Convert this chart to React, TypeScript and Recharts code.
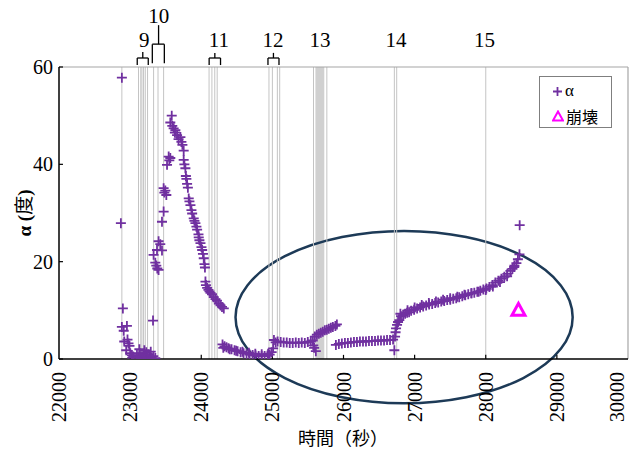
import React from "react";
import {
  ScatterChart,
  Scatter,
  XAxis,
  YAxis,
  ReferenceLine,
  ReferenceArea,
  ReferenceDot,
} from "recharts";

// ---- data ----
const xTicks = [22000, 23000, 24000, 25000, 26000, 27000, 28000, 29000, 30000];
const yTicks = [0, 20, 40, 60];

const alphaTime = [
  22884, 22870, 22898, 22884, 22955, 22910, 22917, 22963, 22977, 22945, 22991, 23001, 23025, 23030, 23044,
  23096, 23114, 23130, 23135, 23150, 23171, 23192, 23200, 23213, 23227, 23248, 23269, 23283, 23290, 23305, 23326, 23354,
  23322,
  23330, 23354, 23368, 23382, 23400, 23378, 23400, 23424, 23448, 23448, 23471, 23471, 23481, 23495, 23509, 23519, 23542, 23551, 23565,
  23585, 23565, 23593, 23612, 23629, 23636, 23660, 23681, 23707, 23721, 23735, 23753,
  23753, 23763, 23777, 23784, 23791, 23801, 23812, 23824, 23834, 23848, 23862, 23872, 23894, 23904, 23918, 23932, 23942, 23961, 23965, 23974, 23989, 24003, 24013, 24024, 24035, 24045, 24052,
  24059, 24066, 24083, 24101, 24116, 24130, 24151, 24176, 24200, 24221, 24247, 24271, 24292, 24317,
  24299, 24327, 24355, 24384, 24426, 24468, 24511, 24553, 24595, 24637, 24680, 24722, 24764, 24807, 24849, 24891, 24933, 24962, 24990, 25011,
  24310, 24400, 24490, 24580, 24670, 24760, 24850, 24940,
  25022, 25046, 25074, 25117, 25159, 25202, 25244, 25286, 25329, 25371, 25413, 25456, 25498, 25540, 25568, 25575, 25587, 25611,
  25597, 25625, 25653, 25681, 25709, 25738, 25766, 25794, 25822, 25850, 25886, 25907,
  25893, 25935, 25977, 26020, 26062, 26104, 26147, 26189, 26231, 26274, 26316, 26358, 26400, 26443, 26485, 26527, 26570, 26612, 26654, 26697, 26715,
  26725, 26732, 26739, 26753, 26767, 26785, 26809, 26838, 26866, 26894, 26922, 26951, 26993, 27035, 27077, 27120, 27162, 27204, 27247, 27289,
  27331, 27374, 27416, 27458, 27501, 27543, 27585, 27627, 27670, 27712, 27754, 27797, 27839, 27881, 27924, 27966, 28008, 28051, 28093, 28135,
  28177, 28220, 28262, 28304, 28347, 28375, 28403, 28431, 28452, 28474, 28477,
  26800, 26900, 27000, 27100, 27200, 27300, 27400, 27500, 27600, 27700, 27800, 27900, 28000, 28100, 28200, 28300, 28400,
];
const alphaDeg = [
  57.8, 27.9, 10.4, 6.6, 6.8, 5.8, 3.6, 4.0, 3.2, 1.8, 2.7, 1.2, 0.8, 0.3, 0.5,
  0.8, 0.3, 2.0, 1.2, 0.5, 0.2, 1.0, 1.8, 0.6, 1.4, 0.3, 0.9, 0.4, 1.5, 0.2, 0.6, 0.2,
  7.9,
  21.4, 19.8, 19.2, 18.6, 18.3, 22.4, 24.2, 23.6, 22.3, 28.2, 30.3, 35.1, 34.2, 34.6, 33.7, 39.9, 41.6, 40.8, 41.3,
  50.0, 48.6, 47.9, 47.4, 46.5, 47.0, 46.0, 45.2, 45.6, 44.6, 44.0, 42.8,
  40.9, 40.0, 39.2, 37.6, 37.0, 36.0, 35.2, 33.0, 32.4, 31.6, 30.6, 29.9, 28.9, 28.4, 27.9, 27.2, 26.6, 25.6, 25.0, 24.4, 23.8, 23.0, 22.4, 21.6, 20.7, 19.5, 18.8,
  15.9, 15.2, 14.6, 14.2, 13.9, 13.6, 13.3, 12.7, 12.3, 12.0, 11.4, 11.0, 10.7, 10.4,
  3.0, 2.6, 2.4, 2.2, 2.0, 1.8, 1.6, 1.4, 1.2, 1.1, 0.9, 0.8, 0.7, 0.6, 0.6, 0.6, 0.7, 0.9, 1.4, 2.2,
  2.3, 2.0, 1.7, 1.5, 1.3, 1.1, 1.0, 1.1,
  3.9, 3.4, 3.6, 3.5, 3.4, 3.4, 3.3, 3.3, 3.4, 3.3, 3.4, 3.3, 3.5, 3.6, 3.8, 2.8, 2.3, 1.6,
  4.6, 5.0, 5.2, 5.4, 5.6, 5.9, 6.0, 6.2, 6.4, 6.6, 6.8, 7.1,
  2.9, 3.1, 3.2, 3.3, 3.3, 3.4, 3.5, 3.5, 3.6, 3.6, 3.6, 3.7, 3.7, 3.7, 3.8, 3.8, 3.8, 3.9, 3.9, 4.0, 1.8,
  4.6, 5.5, 6.3, 7.0, 7.6, 8.0, 8.8, 9.0, 9.3, 9.5, 9.6, 9.9, 10.1, 10.4, 10.6, 10.8, 11.0, 11.2, 11.3, 11.5,
  11.6, 11.8, 11.9, 12.1, 12.2, 12.4, 12.5, 12.7, 12.9, 13.1, 13.3, 13.5, 13.6, 13.8, 14.0, 14.3, 14.5, 14.8, 15.2, 15.7,
  16.1, 16.5, 16.9, 17.5, 18.1, 18.5, 19.2, 19.7, 20.5, 21.5, 27.5,
  9.3, 10.0, 10.6, 11.1, 11.5, 11.8, 12.2, 12.5, 12.8, 13.2, 13.5, 13.8, 14.2, 14.9, 15.8, 17.0, 18.9,
];

const collapseTime = [28460];
const collapseDeg = [10.2];

// event marker lines (seconds)
const eventLines = [
  22884, 23118, 23150, 23166, 23189, 23213, 23245, 23330, 23392, 23471,
  24110, 24150, 24190, 24224, 24952, 25000, 25070, 25103, 25578, 25766,
  26715, 26748, 28000,
];
const shadedStart = 25605;
const shadedEnd = 25730;

// brackets above plot
const bracketX1 = [23100, 23312, 24111, 24938];
const bracketX2 = [23255, 23481, 24271, 25093];
const bracketStem = [23178, 23400, 24191, 25015];
const bracketBar = [61.85, 64.7, 61.85, 61.85];
const bracketStemTop = [63.1, 68.6, 62.9, 62.9];
const bracketFoot = [60.4, 60.75, 60.4, 60.4];

const eventLabels = ["9", "10", "11", "12", "13", "14", "15"];
const eventLabelX = [23198, 23404, 24247, 25008, 25671, 26739, 27984];
const eventLabelY = [64.17, 69.0, 64.17, 64.17, 64.17, 64.17, 64.17];

// ellipse annotation (data units)
const ellipseCenter = { x: 26852, y: 8.6 };
const ellipseHalf = { x: 2370, y: 17.7 };

const alphaData = alphaTime.map((x, i) => ({ x, y: alphaDeg[i] }));
const collapseData = collapseTime.map((x, i) => ({ x, y: collapseDeg[i] }));

const PURPLE = "#7030A0";
const MAGENTA = "#FF00FF";
const SERIF = "'Liberation Serif', 'Times New Roman', serif";
const CJK = "'Noto Sans CJK JP', sans-serif";

const Plus = (props: any) => {
  const { cx, cy } = props;
  if (cx == null || cy == null) return null;
  return (
    <path
      d={`M${cx - 5},${cy}h10M${cx},${cy - 5}v10`}
      stroke={PURPLE}
      strokeWidth={1.8}
      fill="none"
    />
  );
};

const Tri = (props: any) => {
  const { cx, cy } = props;
  if (cx == null || cy == null) return null;
  return (
    <path
      d={`M${cx},${cy - 6} L${cx + 6.5},${cy + 6} L${cx - 6.5},${cy + 6} Z`}
      stroke={MAGENTA}
      strokeWidth={3}
      fill="none"
      strokeLinejoin="miter"
    />
  );
};

const XTick = (props: any) => {
  const { x, y, payload } = props;
  return (
    <text
      transform={`translate(${x},${y + 13}) rotate(-90)`}
      textAnchor="end"
      dominantBaseline="central"
      fontFamily={SERIF}
      fontSize={20}
      fill="#000"
    >
      {payload.value}
    </text>
  );
};

const YTick = (props: any) => {
  const { x, y, payload } = props;
  return (
    <text
      x={x}
      y={y}
      textAnchor="end"
      dominantBaseline="central"
      fontFamily={SERIF}
      fontSize={20}
      fill="#000"
    >
      {payload.value}
    </text>
  );
};

export default function App() {
  return (
    <div style={{ position: "absolute", left: 0, top: 0, width: 637, height: 451, background: "#fff" }}>
      <ScatterChart
        width={637}
        height={451}
        margin={{ top: 67, right: 9, bottom: 0, left: 0 }}
      >
        <XAxis
          type="number"
          dataKey="x"
          domain={[22000, 30000]}
          ticks={xTicks}
          height={92}
          tickLine={false}
          tickSize={0}
          tickMargin={0}
          tick={<XTick />}
          axisLine={{ stroke: "#000", strokeWidth: 1.5 }}
          allowDataOverflow
        />
        <YAxis
          type="number"
          dataKey="y"
          domain={[0, 60]}
          ticks={yTicks}
          width={59}
          tickLine={false}
          tickSize={0}
          tickMargin={6}
          tick={<YTick />}
          axisLine={{ stroke: "#000", strokeWidth: 1.5 }}
          allowDataOverflow
        />

        <ReferenceArea
          x1={shadedStart}
          x2={shadedEnd}
          y1={0}
          y2={60}
          fill="#c8c8c8"
          fillOpacity={0.85}
          stroke="none"
        />
        {eventLines.map((t, i) => (
          <ReferenceLine key={"ev" + i} x={t} stroke="#c4c4c4" strokeWidth={1} />
        ))}
        <ReferenceLine y={60} stroke="#a6a6a6" strokeWidth={1.2} />
        <ReferenceLine x={30000} stroke="#a6a6a6" strokeWidth={1.2} />

        {/* inward tick marks */}
        {xTicks.slice(1, -1).map((t, i) => (
          <ReferenceLine
            key={"xt" + i}
            segment={[
              { x: t, y: 0 },
              { x: t, y: 0.85 },
            ]}
            stroke="#000"
            strokeWidth={1.2}
          />
        ))}
        {yTicks.map((v, i) => (
          <ReferenceLine
            key={"yt" + i}
            segment={[
              { x: 22000, y: v },
              { x: 22056, y: v },
            ]}
            stroke="#000"
            strokeWidth={1.2}
          />
        ))}

        {/* brackets above plot */}
        {bracketX1.map((x1, i) => (
          <React.Fragment key={"br" + i}>
            <ReferenceLine
              segment={[
                { x: x1, y: bracketBar[i] },
                { x: bracketX2[i], y: bracketBar[i] },
              ]}
              stroke="#000"
              strokeWidth={1.3}
              ifOverflow="visible"
            />
            <ReferenceLine
              segment={[
                { x: x1, y: bracketFoot[i] },
                { x: x1, y: bracketBar[i] },
              ]}
              stroke="#000"
              strokeWidth={1.3}
              ifOverflow="visible"
            />
            <ReferenceLine
              segment={[
                { x: bracketX2[i], y: bracketFoot[i] },
                { x: bracketX2[i], y: bracketBar[i] },
              ]}
              stroke="#000"
              strokeWidth={1.3}
              ifOverflow="visible"
            />
            <ReferenceLine
              segment={[
                { x: bracketStem[i], y: bracketBar[i] },
                { x: bracketStem[i], y: bracketStemTop[i] },
              ]}
              stroke="#000"
              strokeWidth={1.3}
              ifOverflow="visible"
            />
          </React.Fragment>
        ))}
        {eventLabels.map((lab, i) => (
          <ReferenceDot
            key={"lab" + i}
            x={eventLabelX[i]}
            y={eventLabelY[i]}
            r={1}
            ifOverflow="visible"
            shape={(p: any) => (
              <text
                x={p.cx}
                y={p.cy}
                textAnchor="middle"
                fontFamily={SERIF}
                fontSize={21}
                fill="#000"
              >
                {lab}
              </text>
            )}
          />
        ))}

        <Scatter
          name="α"
          data={alphaData}
          shape={<Plus />}
          isAnimationActive={false}
        />
        <Scatter
          name="崩壊"
          data={collapseData}
          shape={<Tri />}
          isAnimationActive={false}
        />

        <ReferenceArea
          x1={ellipseCenter.x - ellipseHalf.x}
          x2={ellipseCenter.x + ellipseHalf.x}
          y1={ellipseCenter.y - ellipseHalf.y}
          y2={ellipseCenter.y + ellipseHalf.y}
          ifOverflow="visible"
          shape={(p: any) => (
            <ellipse
              cx={p.x + p.width / 2}
              cy={p.y + p.height / 2}
              rx={Math.abs(p.width) / 2}
              ry={Math.abs(p.height) / 2}
              fill="none"
              stroke="#1D3A57"
              strokeWidth={2.5}
            />
          )}
        />
      </ScatterChart>

      {/* axis titles */}
      <div
        style={{
          position: "absolute",
          left: 0,
          top: 0,
          width: 637,
          height: 451,
          pointerEvents: "none",
        }}
      >
        <div
          style={{
            position: "absolute",
            left: 343,
            top: 437,
            transform: "translate(-50%,-50%)",
            fontFamily: CJK,
            fontSize: 18,
            whiteSpace: "nowrap",
            color: "#000",
          }}
        >
          時間（秒）
        </div>
        <div
          style={{
            position: "absolute",
            left: 22,
            top: 213,
            transform: "translate(-50%,-50%) rotate(-90deg)",
            fontFamily: SERIF,
            fontSize: 19,
            fontWeight: "bold",
            whiteSpace: "nowrap",
            color: "#000",
          }}
        >
          α (<span style={{ fontFamily: CJK, fontWeight: "normal" }}>度</span>)
        </div>
        {/* legend */}
        <div
          style={{
            position: "absolute",
            left: 539,
            top: 76,
            width: 73,
            height: 52,
            boxSizing: "border-box",
            border: "1px solid #7f7f7f",
            background: "#fff",
            fontFamily: SERIF,
            fontSize: 17,
            color: "#000",
          }}
        >
          <div style={{ position: "absolute", left: 12, top: 4, display: "flex", alignItems: "center" }}>
            <svg width={11} height={11} style={{ marginRight: 2 }}>
              <path d="M1,5.5h9M5.5,1v9" stroke={PURPLE} strokeWidth={1.8} />
            </svg>
            <span>α</span>
          </div>
          <div style={{ position: "absolute", left: 12, top: 27, display: "flex", alignItems: "center" }}>
            <svg width={12} height={12} style={{ marginRight: 2 }}>
              <path d="M6,1.5 L11,10.5 L1,10.5 Z" stroke={MAGENTA} strokeWidth={2} fill="none" />
            </svg>
            <span style={{ fontFamily: CJK, fontSize: 16 }}>崩壊</span>
          </div>
        </div>
      </div>
    </div>
  );
}
